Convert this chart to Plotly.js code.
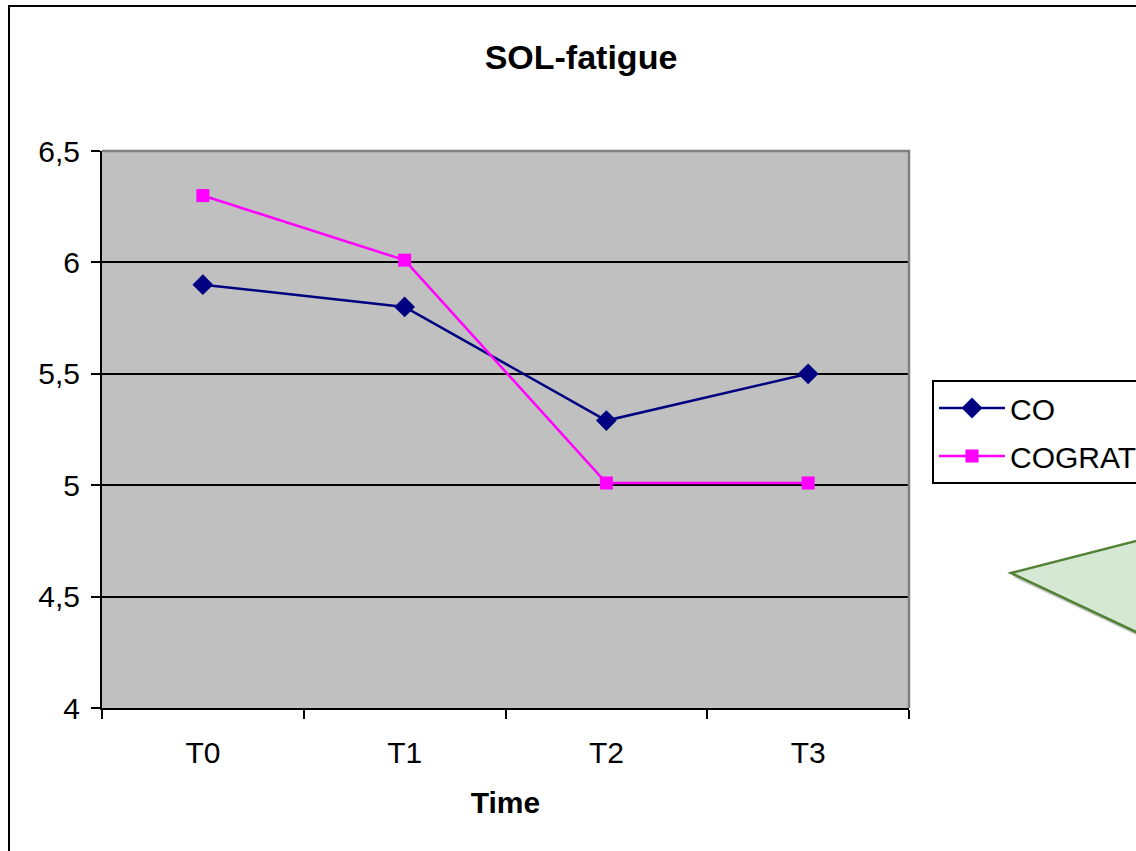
<!DOCTYPE html>
<html>
<head>
<meta charset="utf-8">
<script src="https://cdn.plot.ly/plotly-3.0.1.min.js"></script>
<style>html,body{margin:0;padding:0;background:#fff;}#chart{width:1136px;height:851px;}</style>
</head>
<body>
<div id="chart"></div>
<script>
const categories = ["T0", "T1", "T2", "T3"];
const coValues = [5.9, 5.8, 5.29, 5.5];
const cogratValues = [6.3, 6.01, 5.01, 5.01];
const seriesNames = ["CO", "COGRAT"];
const yTickVals = [4, 4.5, 5, 5.5, 6, 6.5];
const yTickText = ["4", "4,5", "5", "5,5", "6", "6,5"];
const chartTitle = "SOL-fatigue";
const xTitle = "Time";

const W = 1136, H = 851;
const L = 102, R = 909, T = 151, B = 708;
const px = x => (x - L) / (R - L);
const py = y => (B - y) / (B - T);
const font = "Arial, 'Liberation Sans', sans-serif";

function triPath(dx, dy) {
  const pts = [[1011 + dx, 573 + dy], [1250 + dx, 511.8 + dy], [1250 + dx, 685.8 + dy]];
  return "M" + pts.map(p => px(p[0]) + "," + py(p[1])).join(" L") + " Z";
}

const traces = [
  {
    x: categories, y: coValues, name: seriesNames[0], type: "scatter", mode: "lines+markers",
    line: {color: "#000080", width: 2.5},
    marker: {symbol: "diamond", size: 16, color: "#000080"},
    legendgroup: "a"
  },
  {
    x: categories, y: cogratValues, name: seriesNames[1], type: "scatter", mode: "lines+markers",
    line: {color: "#FF00FF", width: 2.5},
    marker: {symbol: "square", size: 13, color: "#FF00FF"},
    legendgroup: "b"
  }
];

const layout = {
  width: W, height: H,
  margin: {l: L, r: W - R, t: T, b: H - B, pad: 0, autoexpand: false},
  paper_bgcolor: "#ffffff",
  plot_bgcolor: "#C0C0C0",
  font: {family: font, size: 30, color: "#000"},
  showlegend: true,
  title: {
    text: "<b>" + chartTitle + "</b>",
    font: {family: font, size: 34, color: "#000"},
    xref: "container", yref: "container",
    x: 581 / W, y: 1 - 57 / H, xanchor: "center", yanchor: "middle"
  },
  xaxis: {
    type: "category",
    range: [-0.5, 3.5],
    tickson: "boundaries",
    ticks: "outside", ticklen: 9, tickwidth: 2, tickcolor: "#000",
    showline: true, linecolor: "#000", linewidth: 2,
    showgrid: false, zeroline: false,
    ticklabelstandoff: 17,
    tickfont: {family: font, size: 30, color: "#000"},
    title: {text: "<b>" + xTitle + "</b>", font: {family: font, size: 30, color: "#000"}, standoff: 24},
    automargin: false
  },
  yaxis: {
    range: [4, 6.5],
    tickvals: yTickVals, ticktext: yTickText,
    ticks: "outside", ticklen: 9, tickwidth: 2, tickcolor: "#000",
    showline: true, linecolor: "#000", linewidth: 2,
    showgrid: true, gridcolor: "#000", gridwidth: 2,
    zeroline: false,
    ticklabelstandoff: 5,
    tickfont: {family: font, size: 30, color: "#000"},
    automargin: false
  },
  legend: {
    x: px(932), y: py(380), xanchor: "left", yanchor: "top",
    bgcolor: "#ffffff", bordercolor: "#000", borderwidth: 2,
    font: {family: font, size: 30, color: "#000"},
    traceorder: "grouped", tracegroupgap: 6,
    itemwidth: 66
  },
  shapes: [
    {type: "rect", xref: "paper", yref: "paper", x0: px(9), y0: py(6), x1: px(1400), y1: py(1100),
     line: {color: "#000", width: 2}, fillcolor: "rgba(0,0,0,0)", layer: "below"},
    {type: "line", xref: "paper", yref: "paper", x0: 0, x1: px(910), y0: 1, y1: 1,
     line: {color: "#808080", width: 2.5}, layer: "above"},
    {type: "line", xref: "paper", yref: "paper", x0: 1, x1: 1, y0: 0, y1: py(150),
     line: {color: "#808080", width: 2.5}, layer: "above"},
    {type: "path", xref: "paper", yref: "paper", path: triPath(2, 4),
     fillcolor: "rgba(150,150,150,0.5)", line: {width: 0}, layer: "above"},
    {type: "path", xref: "paper", yref: "paper", path: triPath(0, 0),
     fillcolor: "#D5E8D4", line: {color: "#538135", width: 2.5}, layer: "above"}
  ]
};

Plotly.newPlot("chart", traces, layout, {displayModeBar: false, staticPlot: true});
</script>
</body>
</html>
